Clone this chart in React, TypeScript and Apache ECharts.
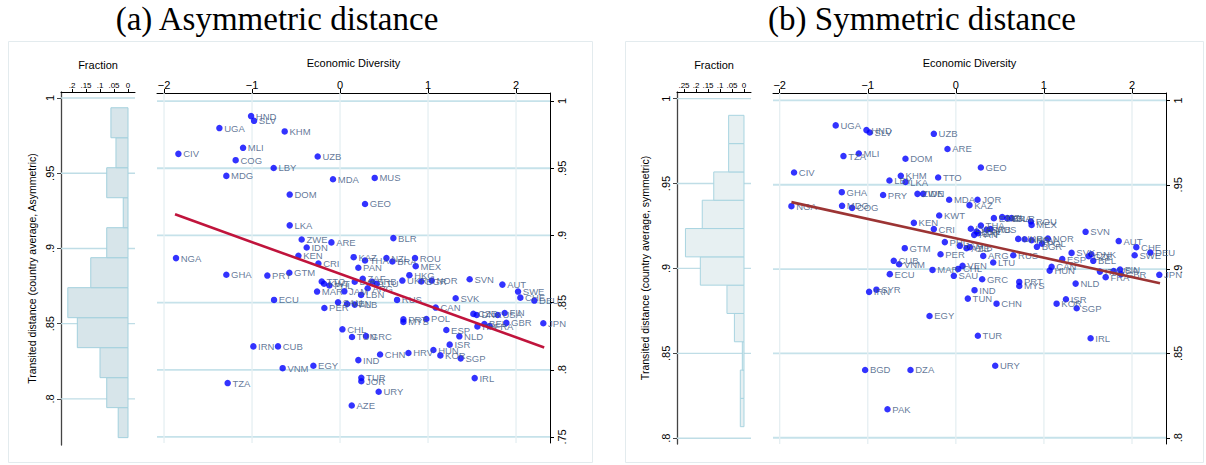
import React, { useEffect, useRef } from "react";
import * as echarts from "echarts";

// ---------- DATA ----------
// Panel (a): [country, economic diversity, transited distance (asymmetric)]
const asymPoints: [string, number, number][] = [
  ["HND", -1.011, 0.9888], ["SLV", -0.977, 0.9853], ["UGA", -1.371, 0.9799], ["KHM", -0.629, 0.9774],
  ["MLI", -1.102, 0.9652], ["CIV", -1.837, 0.9607], ["UZB", -0.254, 0.9587], ["COG", -1.186, 0.956],
  ["LBY", -0.754, 0.9502], ["MDG", -1.292, 0.9443], ["MDA", -0.08, 0.9418], ["MUS", 0.394, 0.9428],
  ["DOM", -0.572, 0.9304], ["GEO", 0.284, 0.9234], ["LKA", -0.572, 0.9075], ["BLR", 0.606, 0.898],
  ["ZWE", -0.436, 0.897], ["ARE", -0.098, 0.8948], ["IDN", -0.379, 0.891], ["NGA", -1.864, 0.8831],
  ["KEN", -0.473, 0.8849], ["KAZ", 0.155, 0.8838], ["THA", 0.284, 0.8813], ["NZL", 0.527, 0.8831],
  ["BRA", 0.595, 0.8806], ["ROU", 0.852, 0.8831], ["CRI", -0.246, 0.8791], ["MEX", 0.86, 0.8771],
  ["PAN", 0.208, 0.8759], ["GHA", -1.292, 0.8707], ["PRY", -0.826, 0.8701], ["GTM", -0.576, 0.8722],
  ["HKG", 0.788, 0.8704], ["ZAF", 0.258, 0.8677], ["SVN", 1.473, 0.8674], ["AUT", 1.845, 0.8634],
  ["TTO", -0.208, 0.8657], ["KWT", -0.182, 0.864], ["PHL", -0.121, 0.8627], ["UKR", 0.708, 0.8664],
  ["BGR", 0.924, 0.8657], ["NOR", 1.042, 0.8664], ["LVA", 0.167, 0.8655], ["SRB", 0.367, 0.8655],
  ["LTU", 0.417, 0.864], ["ARG", 0.314, 0.8607], ["JAM", 0.049, 0.8584], ["MAR", -0.261, 0.8582],
  ["LBN", 0.239, 0.8557], ["ECU", -0.75, 0.852], ["RUS", 0.648, 0.852], ["SVK", 1.314, 0.8532],
  ["SWE", 2.023, 0.8582], ["CHE", 2.049, 0.8537], ["DEU", 2.208, 0.8515], ["SAU", -0.023, 0.8502],
  ["VEN", 0.08, 0.849], ["ALB", 0.167, 0.8485], ["PER", -0.178, 0.846], ["CAN", 1.087, 0.8463],
  ["CZE", 1.515, 0.8416], ["DNK", 1.553, 0.8408], ["USA", 1.792, 0.8408], ["FIN", 1.871, 0.8423],
  ["GBR", 1.89, 0.8349], ["JPN", 2.31, 0.8346], ["ITA", 1.561, 0.8323], ["BEL", 1.64, 0.8341],
  ["FRA", 1.7, 0.8325], ["POL", 0.981, 0.8378], ["PRT", 0.72, 0.8375], ["MYS", 0.72, 0.8356],
  ["ESP", 1.208, 0.8296], ["NLD", 1.356, 0.8249], ["CHL", 0.027, 0.8301], ["TUN", 0.136, 0.8244],
  ["GRC", 0.295, 0.8251], ["IRN", -0.985, 0.8174], ["CUB", -0.705, 0.8174], ["ISR", 1.246, 0.8187],
  ["HUN", 1.061, 0.8147], ["KOR", 1.14, 0.8107], ["SGP", 1.371, 0.8085], ["HRV", 0.777, 0.8125],
  ["CHN", 0.455, 0.8114], ["IND", 0.208, 0.8072], ["VNM", -0.652, 0.8012], ["EGY", -0.303, 0.803],
  ["TZA", -1.277, 0.7901], ["TUR", 0.242, 0.794], ["JOR", 0.242, 0.7915], ["URY", 0.439, 0.7836],
  ["AZE", 0.133, 0.7734], ["IRL", 1.53, 0.7938],
];

// Panel (b): [country, economic diversity, transited distance (symmetric)]
const symPoints: [string, number, number][] = [
  ["UGA", -1.364, 0.9852], ["HND", -1.015, 0.9824], ["SLV", -0.977, 0.981], ["UZB", -0.25, 0.9802],
  ["ARE", -0.095, 0.9712], ["MLI", -1.102, 0.9685], ["TZA", -1.276, 0.967], ["DOM", -0.572, 0.9654],
  ["GEO", 0.284, 0.9602], ["CIV", -1.837, 0.9573], ["KHM", -0.625, 0.9553], ["TTO", -0.201, 0.9543],
  ["LBY", -0.754, 0.9525], ["LKA", -0.572, 0.9516], ["GHA", -1.295, 0.9456], ["PRY", -0.826, 0.9439],
  ["ZWE", -0.436, 0.9446], ["IDN", -0.371, 0.9446], ["MDA", -0.076, 0.9411], ["JOR", 0.246, 0.9411],
  ["KAZ", 0.155, 0.9379], ["NGA", -1.867, 0.9373], ["MDG", -1.292, 0.9375], ["COG", -1.178, 0.9363],
  ["KWT", -0.189, 0.9318], ["KEN", -0.477, 0.9274], ["CRI", -0.25, 0.9237], ["LVA", 0.17, 0.9239],
  ["THA", 0.284, 0.9258], ["LBN", 0.235, 0.9223], ["PAN", 0.208, 0.9203], ["ZAF", 0.253, 0.9213],
  ["SRB", 0.349, 0.9233], ["MUS", 0.394, 0.9237], ["AZE", 0.121, 0.9124], ["ALB", 0.159, 0.913],
  ["PHL", -0.125, 0.916], ["JAM", 0.045, 0.9138], ["EST", 0.432, 0.9302], ["NZL", 0.526, 0.9308],
  ["BRA", 0.583, 0.9302], ["BLR", 0.633, 0.9302], ["ROU", 0.852, 0.9282], ["MEX", 0.86, 0.9262],
  ["GTM", -0.58, 0.9124], ["PER", -0.174, 0.9088], ["ARG", 0.311, 0.9078], ["RUS", 0.652, 0.9082],
  ["LTU", 0.424, 0.9039], ["CUB", -0.705, 0.9049], ["VNM", -0.644, 0.9029], ["VEN", 0.076, 0.9019],
  ["CHL", 0.027, 0.9001], ["MAR", -0.265, 0.8995], ["ECU", -0.75, 0.897], ["SAU", -0.023, 0.896],
  ["GRC", 0.299, 0.894], ["UKR", 0.708, 0.9179], ["HKG", 0.781, 0.9177], ["HRV", 0.86, 0.9171],
  ["BGR", 0.92, 0.9132], ["POL", 0.977, 0.9151], ["NOR", 1.045, 0.9181], ["SVN", 1.473, 0.9221],
  ["AUT", 1.849, 0.9166], ["CHE", 2.049, 0.913], ["DEU", 2.208, 0.9098], ["SWE", 2.03, 0.9082],
  ["SVK", 1.314, 0.9096], ["DNK", 1.538, 0.9088], ["CZE", 1.508, 0.9076], ["BEL", 1.56, 0.9049],
  ["ESP", 1.208, 0.9059], ["CAN", 1.087, 0.9013], ["HUN", 1.065, 0.8991], ["ITA", 1.636, 0.8985],
  ["FRA", 1.701, 0.8952], ["USA", 1.792, 0.8989], ["FIN", 1.864, 0.8997], ["GBR", 1.875, 0.897],
  ["JPN", 2.31, 0.8966], ["NLD", 1.36, 0.8914], ["PRT", 0.72, 0.8924], ["MYS", 0.72, 0.89],
  ["IND", 0.212, 0.8875], ["TUN", 0.136, 0.8825], ["CHN", 0.462, 0.8795], ["SYR", -0.902, 0.8878],
  ["IRN", -0.985, 0.8865], ["EGY", -0.299, 0.8722], ["ISR", 1.25, 0.8821], ["KOR", 1.144, 0.8795],
  ["SGP", 1.372, 0.8768], ["TUR", 0.25, 0.8605], ["IRL", 1.53, 0.859], ["BGD", -1.03, 0.8402],
  ["DZA", -0.515, 0.8402], ["URY", 0.447, 0.8427], ["PAK", -0.776, 0.8169],
];

// Histograms (fraction per bin, bottom bin first)
const asymHistStart = 0.7743;
const asymHistWidth = 0.01993;
const asymHistFractions = [0.035, 0.076, 0.1, 0.181, 0.215, 0.133, 0.076, 0.017, 0.076, 0.043, 0.061];
const symHistStart = 0.8068;
const symHistWidth = 0.01667;
const symHistFractions = [0.0154, 0.0154, 0.007, 0.04, 0.071, 0.182, 0.244, 0.174, 0.126, 0.064, 0.064];

// Fitted lines (endpoints in data units)
const asymFitX = [-1.875, 2.32];
const asymFitY = [0.9157, 0.8166];
const symFitX = [-1.867, 2.318];
const symFitY = [0.9397, 0.8916];

// Tick values
const xTicks = [-2, -1, 0, 1, 2];
const asymYTicks = [0.75, 0.8, 0.85, 0.9, 0.95, 1];
const asymHistYTicks = [0.8, 0.85, 0.9, 0.95, 1];
const symYTicks = [0.8, 0.85, 0.9, 0.95, 1];
const asymHistXTicks = [0, 0.05, 0.1, 0.15, 0.2];
const symHistXTicks = [0, 0.05, 0.1, 0.15, 0.2, 0.25];

// ---------- STYLE ----------
const SANS = "Liberation Sans, Arial, Helvetica, sans-serif";
const SERIF = "Liberation Serif, Times New Roman, serif";

const fmt = (v: number) => {
  const r = Math.round(v * 100) / 100;
  if (r === 0) return "0";
  if (r < 0) return "\u2212" + String(Math.abs(r));
  return String(r).replace(/^0\./, ".");
};

function histSeries(gi: number, start: number, width: number, fr: number[], fill: string, stroke: string) {
  return {
    type: "custom",
    xAxisIndex: gi,
    yAxisIndex: gi,
    z: 2,
    silent: true,
    encode: { x: 2, y: [0, 1] },
    data: fr.map((f, i) => [start + i * width, start + (i + 1) * width, f]),
    renderItem: (_p: any, api: any) => {
      const y0 = api.value(0), y1 = api.value(1), f = api.value(2);
      const a = api.coord([0, y1]);
      const b = api.coord([f, y0]);
      return {
        type: "rect",
        shape: {
          x: Math.min(a[0], b[0]),
          y: Math.min(a[1], b[1]),
          width: Math.abs(a[0] - b[0]),
          height: Math.abs(a[1] - b[1]),
        },
        style: { fill, stroke, lineWidth: 1 },
      };
    },
  };
}

function gridLineSeries(gi: number, segs: number[][], color: string, w: number) {
  return {
    type: "custom",
    xAxisIndex: gi,
    yAxisIndex: gi,
    z: 1,
    silent: true,
    clip: false,
    encode: { x: [0, 2], y: [1, 3] },
    data: segs,
    renderItem: (_p: any, api: any) => {
      const a = api.coord([api.value(0), api.value(1)]);
      const b = api.coord([api.value(2), api.value(3)]);
      return {
        type: "line",
        shape: { x1: a[0], y1: a[1], x2: b[0], y2: b[1] },
        style: { stroke: color, lineWidth: w },
      };
    },
  };
}

function scatterSeries(gi: number, pts: [string, number, number][]) {
  return {
    type: "scatter",
    xAxisIndex: gi,
    yAxisIndex: gi,
    z: 3,
    symbolSize: 6.5,
    itemStyle: { color: "#0000ff" },
    data: pts.map((p) => [p[1], p[2], p[0]]),
    label: {
      show: true,
      position: "right",
      distance: 1.5,
      formatter: (p: any) => p.data[2],
      fontSize: 9.5,
      fontFamily: SANS,
      color: "#3a557e",
    },
    emphasis: { disabled: true },
  };
}

function fitSeries(gi: number, xs: number[], ys: number[], color: string) {
  return {
    type: "line",
    xAxisIndex: gi,
    yAxisIndex: gi,
    z: 4,
    symbol: "none",
    silent: true,
    data: xs.map((x, i) => [x, ys[i]]),
    lineStyle: { color, width: 2.6 },
  };
}

function histXAxis(gi: number, min: number, max: number, ticks: number[]) {
  return {
    type: "value",
    gridIndex: gi,
    position: "top",
    inverse: true,
    min,
    max,
    axisLine: { show: true, onZero: false, lineStyle: { color: "#000", width: 1 } },
    axisTick: { show: true, customValues: ticks, length: 3, lineStyle: { color: "#000" } },
    axisLabel: { customValues: ticks, formatter: fmt, fontSize: 8, margin: 3, color: "#000", fontFamily: SANS },
    splitLine: { show: false },
    name: "Fraction",
    nameLocation: "middle",
    nameGap: 22,
    nameTextStyle: { fontSize: 11, color: "#000", fontFamily: SANS },
  };
}

function histYAxis(gi: number, min: number, max: number, ticks: number[], title: string, gap: number) {
  return {
    type: "value",
    gridIndex: gi,
    position: "left",
    min,
    max,
    axisLine: { show: true, onZero: false, lineStyle: { color: "#444", width: 1.3 } },
    axisTick: { show: true, customValues: ticks, length: 4, lineStyle: { color: "#444" } },
    axisLabel: { customValues: ticks, formatter: fmt, rotate: 90, fontSize: 11, margin: 6, color: "#000", fontFamily: SANS },
    splitLine: { show: false },
    name: title,
    nameLocation: "middle",
    nameRotate: 90,
    nameGap: gap,
    nameTextStyle: { fontSize: 10.5, color: "#000", fontFamily: SANS },
  };
}

function scatterXAxis(gi: number, min: number, max: number) {
  return {
    type: "value",
    gridIndex: gi,
    position: "top",
    min,
    max,
    axisLine: { show: true, onZero: false, lineStyle: { color: "#000", width: 1 } },
    axisTick: { show: true, customValues: xTicks, length: 4, lineStyle: { color: "#000" } },
    axisLabel: { customValues: xTicks, formatter: fmt, fontSize: 11, margin: 3, color: "#000", fontFamily: SANS },
    splitLine: { show: false },
    name: "Economic Diversity",
    nameLocation: "middle",
    nameGap: 25,
    nameTextStyle: { fontSize: 11, color: "#000", fontFamily: SANS },
  };
}

function scatterYAxis(gi: number, min: number, max: number, ticks: number[]) {
  return {
    type: "value",
    gridIndex: gi,
    position: "right",
    min,
    max,
    axisLine: { show: true, onZero: false, lineStyle: { color: "#000", width: 1 } },
    axisTick: { show: true, customValues: ticks, length: 4, lineStyle: { color: "#000" } },
    axisLabel: { customValues: ticks, formatter: fmt, rotate: 90, fontSize: 11, margin: 6, color: "#000", fontFamily: SANS },
    splitLine: { show: false },
  };
}

export default function App() {
  const ref = useRef<HTMLDivElement>(null);
  useEffect(() => {
    if (!ref.current) return;
    const chart = echarts.init(ref.current, undefined, { renderer: "svg" });

    const A = { hx: [-0.025, 0.2393], hy: [0.7694, 1.004], sx: [-2.08, 2.386], sy: [0.7455, 1.006] };
    const B = { hx: [-0.0292, 0.2792], hy: [0.7966, 1.0039], sx: [-2.076, 2.386], sy: [0.7963, 1.0044] };

    const hGrid = (ticks: number[], x0: number, x1: number) => ticks.map((t) => [x0, t, x1, t]);
    const vGrid = (ticks: number[], y0: number, y1: number) => ticks.map((t) => [t, y0, t, y1]);

    chart.setOption({
      animation: false,
      backgroundColor: "#ffffff",
      grid: [
        { left: 61, top: 92, width: 74, height: 353 },
        { left: 157, top: 93, width: 393, height: 350 },
        { left: 677, top: 92, width: 74, height: 352 },
        { left: 773, top: 93, width: 393, height: 351 },
      ],
      xAxis: [
        histXAxis(0, A.hx[0], A.hx[1], asymHistXTicks),
        scatterXAxis(1, A.sx[0], A.sx[1]),
        histXAxis(2, B.hx[0], B.hx[1], symHistXTicks),
        scatterXAxis(3, B.sx[0], B.sx[1]),
      ],
      yAxis: [
        histYAxis(0, A.hy[0], A.hy[1], asymHistYTicks, "Transited distance (country average, Asymmetric)", 24),
        scatterYAxis(1, A.sy[0], A.sy[1], asymYTicks),
        histYAxis(2, B.hy[0], B.hy[1], symYTicks, "Transited distance (country average, symmetric)", 27),
        scatterYAxis(3, B.sy[0], B.sy[1], symYTicks),
      ],
      graphic: [
        { type: "rect", shape: { x: 8.5, y: 41.5, width: 584, height: 421 }, style: { fill: "none", stroke: "#e3ebee", lineWidth: 1 }, z: -1 },
        { type: "rect", shape: { x: 625.5, y: 41.5, width: 578, height: 421 }, style: { fill: "none", stroke: "#e3ebee", lineWidth: 1 }, z: -1 },
        { type: "text", x: 277, y: 19, style: { text: "(a) Asymmetric distance", font: `33px ${SERIF}`, fill: "#000", textAlign: "center", textVerticalAlign: "middle" } },
        { type: "text", x: 922, y: 19, style: { text: "(b) Symmetric distance", font: `33px ${SERIF}`, fill: "#000", textAlign: "center", textVerticalAlign: "middle" } },
      ],
      series: [
        gridLineSeries(0, hGrid(asymHistYTicks, A.hx[1], A.hx[0]), "#bfdde6", 1.3),
        gridLineSeries(1, hGrid(asymYTicks, A.sx[0], A.sx[1]), "#c6e2ea", 1.8),
        gridLineSeries(1, vGrid(xTicks, A.sy[0], A.sy[1]), "#e5eff2", 1.3),
        gridLineSeries(2, hGrid(symYTicks, B.hx[1], B.hx[0]), "#bfdde6", 1.3),
        gridLineSeries(3, hGrid(symYTicks, B.sx[0], B.sx[1]), "#c6e2ea", 1.8),
        gridLineSeries(3, vGrid(xTicks, B.sy[0], B.sy[1]), "#e5eff2", 1.3),
        histSeries(0, asymHistStart, asymHistWidth, asymHistFractions, "#d7e5ea", "#a3d0dd"),
        histSeries(2, symHistStart, symHistWidth, symHistFractions, "#e7f0f2", "#a8d4e0"),
        scatterSeries(1, asymPoints),
        scatterSeries(3, symPoints),
        fitSeries(1, asymFitX, asymFitY, "#c0143c"),
        fitSeries(3, symFitX, symFitY, "#9c3434"),
      ],
    });
    return () => chart.dispose();
  }, []);
  return <div ref={ref} style={{ position: "absolute", left: 0, top: 0, width: 1206, height: 465 }} />;
}
